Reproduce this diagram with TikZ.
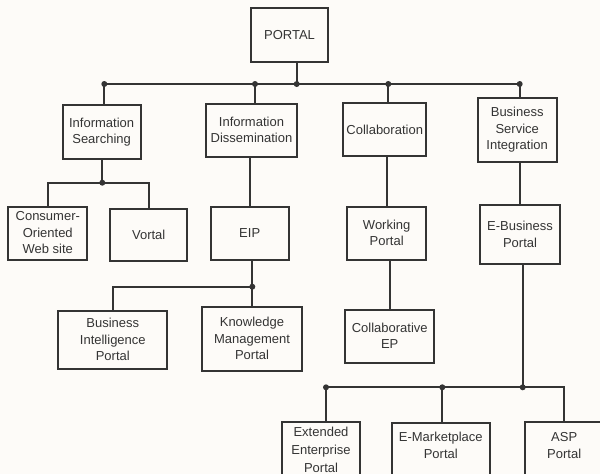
\documentclass[tikz,border=0pt]{standalone}
\usepackage{fontspec}
\setmainfont{Liberation Sans}
\definecolor{bg}{RGB}{253,251,248}
\definecolor{ink}{RGB}{52,52,52}
\begin{document}
\begin{tikzpicture}[x=1pt,y=-1pt,
  txt/.style={align=center, font=\fontsize{13}{16.5}\selectfont, text=ink, inner sep=0pt},
  box/.style={txt, draw=ink, line width=2pt},
  frame/.style={draw=ink, line width=2pt, inner sep=0pt},
  wire/.style={draw=ink, line width=2pt},
  dot/.style={circle, fill=ink, inner sep=0pt, minimum size=6pt}]
\useasboundingbox (0,0) rectangle (600,474);
\fill[bg] (0,0) rectangle (600,474);
\clip (0,0) rectangle (600,474);

% level 0
\node[box, minimum width=77pt, minimum height=54pt] (portal) at (289.5,35.3) {PORTAL};
% level 1
\node[box, minimum width=78pt, minimum height=54pt] (is) at (101.6,132) {Information\\Searching};
\node[box, minimum width=91pt, minimum height=53pt] (id) at (251.5,130) {Information\\Dissemination};
\node[box, minimum width=83pt, minimum height=53pt] (col) at (384.7,129.7) {Collaboration};
\node[box, minimum width=79pt, minimum height=64pt] (bsi) at (517.2,129.7) {Business\\Service\\Integration};
% level 2
\node[box, minimum width=79pt, minimum height=53pt] (cow) at (47.8,233) {Consumer-\\Oriented\\Web site};
\node[box, minimum width=77pt, minimum height=52pt] (vortal) at (148.7,234.5) {Vortal};
\node[box, minimum width=78pt, minimum height=53pt] (eip) at (249.7,233) {EIP};
\node[box, minimum width=79pt, minimum height=53pt] (wp) at (386.7,233) {Working\\Portal};
\node[box, minimum width=80pt, minimum height=59pt] (ebp) at (520,234.5) {E-Business\\Portal};
% level 3
\node[box, minimum width=109pt, minimum height=58.5pt] (bi) at (112.8,339.8) {Business\\Intelligence\\Portal};
\node[box, minimum width=100pt, minimum height=64pt] (km) at (252,338.7) {Knowledge\\Management\\Portal};
\node[box, minimum width=88.7pt, minimum height=53pt] (cep) at (389.7,336) {Collaborative\\EP};
% level 4 (cut by the lower edge)
\node[frame, minimum width=78pt, minimum height=80pt, anchor=north] (eep) at (321,420.5) {};
\node[txt, font=\fontsize{13}{18}\selectfont] (eept) at (321,449.5) {Extended\\Enterprise\\Portal};
\node[frame, minimum width=98pt, minimum height=80pt, anchor=north] (emp) at (440.8,421.7) {};
\node[txt, font=\fontsize{13}{17}\selectfont] (empt) at (440.8,445.7) {E-Marketplace\\Portal};
\node[frame, minimum width=78pt, minimum height=80pt, anchor=north] (asp) at (564.2,420.7) {};
\node[txt, font=\fontsize{13}{17}\selectfont] (aspt) at (564.2,445.5) {ASP\\Portal};

% junction dots
\node[dot] (d1) at (104.3,84) {};
\node[dot] (d2) at (255,84) {};
\node[dot] (d3) at (296.7,84) {};
\node[dot] (d4) at (388.3,84) {};
\node[dot] (d5) at (519.7,84) {};
\node[dot] (j1) at (102.3,182.7) {};
\node[dot] (j2) at (252.3,286.7) {};
\node[dot] (k1) at (326,387.3) {};
\node[dot] (k2) at (442.3,387.3) {};
\node[dot] (k3) at (522.7,387.3) {};

% top bus
\draw[wire] (d1.center) -- (d5.center);
\draw[wire] (portal.south -| d3) -- (d3.center);
\draw[wire] (d1.center) -- (d1 |- is.north);
\draw[wire] (d2.center) -- (d2 |- id.north);
\draw[wire] (d4.center) -- (d4 |- col.north);
\draw[wire] (d5.center) -- (d5 |- bsi.north);
% information searching branch
\draw[wire] (is.south -| j1) -- (j1.center);
\draw[wire] (cow.north) |- (j1.center) -| (vortal.north);
% dissemination
\draw[wire] (eip.north) -- (eip.north |- id.south);
\draw[wire] (eip.south -| j2) -- (j2.center);
\draw[wire] (bi.north) |- (j2.center) -- (j2 |- km.north);
% collaboration
\draw[wire] (wp.north) -- (wp.north |- col.south);
\draw[wire] (cep.north) -- (cep.north |- wp.south);
% business service integration
\draw[wire] (ebp.north) -- (ebp.north |- bsi.south);
\draw[wire] (ebp.south -| k3) -- (k3.center);
\draw[wire] (k1 |- eep.north) -- (k1.center) -- (k3.center) -| (asp.north);
\draw[wire] (k2.center) -- (k2 |- emp.north);
\end{tikzpicture}
\end{document}
